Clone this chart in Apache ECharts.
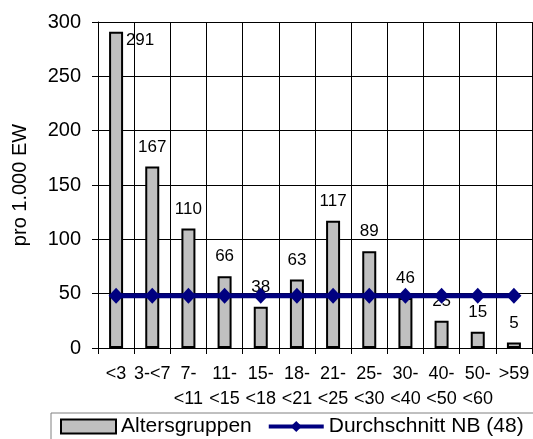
<!DOCTYPE html>
<html><head><meta charset="utf-8">
<script src="https://cdn.jsdelivr.net/npm/echarts@6/dist/echarts.min.js"></script>
<style>html,body{margin:0;padding:0;background:#fff}#c{width:533px;height:439px}</style>
</head><body><div id="c"></div>
<script>
const categories = ['<3', '3-<7', '7-\n<11', '11-\n<15', '15-\n<18', '18-\n<21', '21-\n<25', '25-\n<30', '30-\n<40', '40-\n<50', '50-\n<60', '>59'];
const altersgruppen = [291, 167, 110, 66, 38, 63, 117, 89, 46, 25, 15, 5];
const durchschnitt = [48, 48, 48, 48, 48, 48, 48, 48, 48, 48, 48, 48];
const yTicks = { min: 0, max: 300, interval: 50 };
const FONT = '"Liberation Sans", Arial, sans-serif';

const barData = altersgruppen.map((v, i) => i === 0
  ? { value: v, label: { position: 'insideTop', offset: [24, 0], distance: 0 } }
  : v);

const chart = echarts.init(document.getElementById('c'), null, { renderer: 'canvas' });
chart.setOption({
  animation: false,
  textStyle: { fontFamily: FONT },
  grid: { left: 98, right: 1, top: 22, bottom: 91, containLabel: false },
  legend: {
    left: 51, top: 413, width: 700,
    padding: [3, 40, 12, 9],
    borderColor: '#808080', borderWidth: 1,
    itemWidth: 55, itemHeight: 14, itemGap: 15,
    textStyle: { fontFamily: FONT, fontSize: 21, color: '#000' },
    data: [
      { name: 'Altersgruppen', icon: 'rect' },
      { name: 'Durchschnitt NB (48)', lineStyle: { width: 4, color: '#000080' } }
    ]
  },
  xAxis: {
    type: 'category', data: categories,
    axisLine: { lineStyle: { color: '#000', width: 1 } },
    axisTick: { show: true, length: 6, lineStyle: { color: '#000' } },
    splitLine: { show: true, lineStyle: { color: '#000', width: 1 } },
    axisLabel: { color: '#000', fontSize: 18, fontFamily: FONT, lineHeight: 25, margin: 14, interval: 0, verticalAlign: 'top' }
  },
  yAxis: {
    type: 'value', min: yTicks.min, max: yTicks.max, interval: yTicks.interval,
    name: 'pro 1.000 EW', nameLocation: 'middle', nameGap: 68, nameRotate: 90,
    nameTextStyle: { color: '#000', fontSize: 20, fontFamily: FONT },
    axisLine: { show: true, lineStyle: { color: '#000', width: 1 } },
    axisTick: { show: true, length: 6, lineStyle: { color: '#000' } },
    splitLine: { show: true, lineStyle: { color: '#000', width: 1 } },
    axisLabel: { color: '#000', fontSize: 20, fontFamily: FONT, margin: 17 }
  },
  series: [
    {
      name: 'Altersgruppen', type: 'bar', data: barData, z: 2,
      barWidth: 14,
      itemStyle: { color: '#c0c0c0', borderColor: '#000', borderWidth: 2 },
      label: { show: true, position: 'top', distance: 11, color: '#000', fontSize: 17, fontFamily: FONT }
    },
    {
      name: 'Durchschnitt NB (48)', type: 'line', data: durchschnitt, z: 5,
      symbol: 'diamond', symbolSize: [15, 16],
      lineStyle: { color: '#000080', width: 5 },
      itemStyle: { color: '#000080' }
    }
  ]
});
</script></body></html>
